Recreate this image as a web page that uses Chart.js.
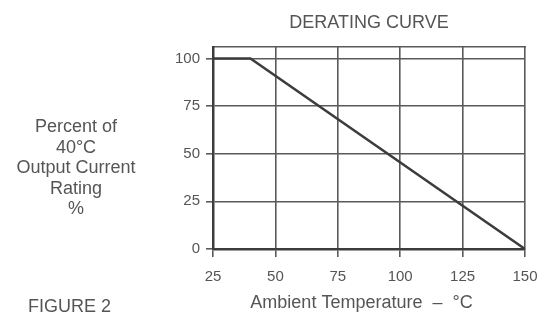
<!DOCTYPE html>
<html lang="en">
<head>
    <meta charset="UTF-8">
    <title>Derating Curve</title>
    <style>
        body {
            margin: 0;
            padding: 0;
            background-color: #fff;
        }
        .wrap {
            position: relative;
            width: 537px;
            height: 318px;
        }
        .side-label {
            position: absolute;
            font-family: 'Liberation Sans', Arial, sans-serif;
            font-size: 18px;
            color: #555;
        }
        #y-title {
            left: 0;
            top: 116px;
            width: 152px;
            text-align: center;
            line-height: 20.5px;
        }
        #figure {
            left: 28px;
            top: 297px;
            line-height: 18px;
        }
    </style>
</head>
<body>
    <div class="wrap">
        <canvas id="derating" width="537" height="318"></canvas>
        <div id="y-title" class="side-label">Percent of<br>40°C<br>Output Current<br>Rating<br>%</div>
        <div id="figure" class="side-label">FIGURE 2</div>
    </div>

    <script src="https://cdn.jsdelivr.net/npm/chart.js"></script>
    <script>
        // data
        const temps = [25, 40, 150];          // ambient temperature, °C
        const rating = [100, 100, 0];          // percent of 40°C output current
        const xTicks = [25, 50, 75, 100, 125, 150];
        const yTicks = [0, 25, 50, 75, 100];

        const ink = '#3c3c3c';
        const gridInk = '#5a5a5a';
        const textInk = '#555';
        const family = "'Liberation Sans', Arial, sans-serif";

        const points = temps.map((t, i) => ({ x: t, y: rating[i] }));

        new Chart(document.getElementById('derating'), {
            type: 'line',
            data: {
                datasets: [{
                    data: points,
                    borderColor: ink,
                    borderWidth: 2.5,
                    pointRadius: 0,
                    tension: 0
                }]
            },
            options: {
                responsive: false,
                animation: false,
                devicePixelRatio: 1,
                layout: { padding: { left: 0, right: 12, top: 0, bottom: 0 } },
                plugins: {
                    legend: { display: false },
                    tooltip: { enabled: false },
                    title: {
                        display: true,
                        text: 'DERATING CURVE',
                        fullSize: false,
                        color: textInk,
                        font: { family: family, size: 18, weight: 'normal', lineHeight: 1.2 },
                        padding: { top: 12, bottom: 13.4 }
                    }
                },
                scales: {
                    x: {
                        type: 'linear',
                        position: 'bottom',
                        min: xTicks[0],
                        max: xTicks[xTicks.length - 1],
                        afterBuildTicks: s => { s.ticks = xTicks.map(v => ({ value: v })); },
                        afterFit: s => { s.height = 69; s.paddingLeft = 0; s.paddingRight = 0; },
                        grid: { color: gridInk, lineWidth: 1.6, tickLength: 8, tickColor: gridInk },
                        border: { color: ink, width: 2.5 },
                        ticks: {
                            color: textInk,
                            padding: 11,
                            maxRotation: 0,
                            font: { family: family, size: 15 }
                        },
                        title: {
                            display: true,
                            // trailing spaces nudge the centred title a little to the left
                            text: 'Ambient Temperature  \u2013  °C   ',
                            color: textInk,
                            font: { family: family, size: 18 },
                            padding: { top: 0, bottom: 4 }
                        }
                    },
                    top: {
                        type: 'linear',
                        position: 'top',
                        min: xTicks[0],
                        max: xTicks[xTicks.length - 1],
                        afterFit: s => { s.height = 0; s.paddingLeft = 0; s.paddingRight = 0; },
                        grid: { drawOnChartArea: false, drawTicks: false },
                        border: { color: gridInk, width: 1.6 },
                        ticks: { display: false }
                    },
                    y: {
                        type: 'linear',
                        min: 0,
                        max: 106,
                        afterBuildTicks: s => { s.ticks = yTicks.map(v => ({ value: v })); },
                        afterFit: s => { s.width = 213; },
                        grid: { color: gridInk, lineWidth: 1.6, tickLength: 7, tickColor: gridInk },
                        border: { color: ink, width: 2.5 },
                        ticks: {
                            color: textInk,
                            padding: 6,
                            font: { family: family, size: 15 }
                        }
                    }
                }
            }
        });
    </script>
</body>
</html>
